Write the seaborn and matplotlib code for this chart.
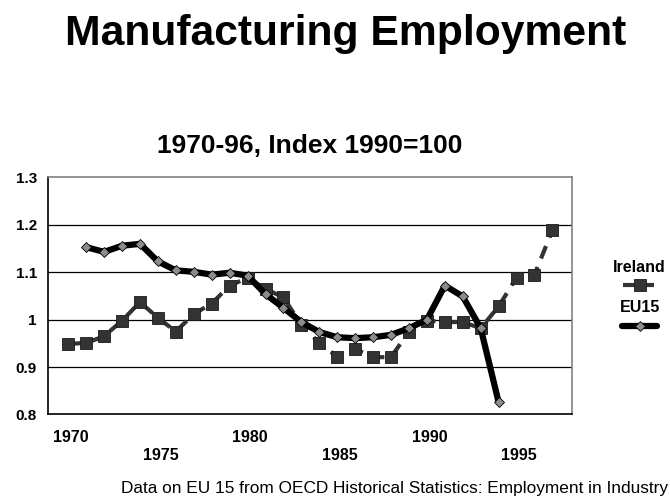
"""
Manufacturing Employment, Ireland vs EU15
Index 1990 = 1.0
"""

import numpy as np
import pandas as pd
import matplotlib
matplotlib.use("Agg")
import matplotlib.pyplot as plt
import matplotlib.transforms as mtransforms
from matplotlib.lines import Line2D
import seaborn as sns

# ============================================================
# DATA
# ============================================================
ireland_years = list(range(1970, 1998))
ireland_index = [0.949, 0.951, 0.965, 0.998, 1.037, 1.004, 0.975, 1.012,
                 1.034, 1.072, 1.088, 1.065, 1.047, 0.989, 0.951, 0.922,
                 0.938, 0.921, 0.921, 0.975, 0.998, 0.995, 0.995, 0.982,
                 1.028, 1.089, 1.095, 1.189]

eu15_years = list(range(1971, 1995))
eu15_index = [1.153, 1.143, 1.156, 1.160, 1.123, 1.104, 1.101, 1.095,
              1.099, 1.093, 1.054, 1.025, 0.995, 0.974, 0.963, 0.961,
              0.963, 0.968, 0.982, 1.000, 1.072, 1.049, 0.982, 0.826]

x_tick_years = [1970, 1975, 1980, 1985, 1990, 1995]
y_ticks = [0.8, 0.9, 1.0, 1.1, 1.2, 1.3]
y_tick_labels = ["0.8", "0.9", "1", "1.1", "1.2", "1.3"]

ireland_df = pd.DataFrame({"year": ireland_years, "index": ireland_index})
eu15_df = pd.DataFrame({"year": eu15_years, "index": eu15_index})

# ============================================================
# STYLE
# ============================================================
sns.set_style("white")
plt.rcParams["font.family"] = ["Liberation Sans", "DejaVu Sans"]
plt.rcParams["text.color"] = "black"
plt.rcParams["xtick.color"] = "black"
plt.rcParams["ytick.color"] = "black"

IRL_COLOR = "#333333"
EU_COLOR = "#000000"
EU_MARKER = "#8c8c8c"

fig = plt.figure(figsize=(6.7, 4.97), dpi=100)
ax = fig.add_axes([0.0716, 0.166, 0.7821, 0.4769])

# Ireland: dark squares, broken line
sns.lineplot(data=ireland_df, x="year", y="index", ax=ax, color=IRL_COLOR,
             lw=3, marker="s", markersize=9, markerfacecolor=IRL_COLOR,
             markeredgecolor="#1a1a1a", markeredgewidth=0.6)
ax.lines[-1].set_dashes((3.2, 2.2))
ax.lines[-1].set_dash_capstyle("butt")

# EU15: thick black line, grey diamonds (drawn on top)
sns.lineplot(data=eu15_df, x="year", y="index", ax=ax, color=EU_COLOR,
             lw=4.5, marker="D", markersize=5.5, markerfacecolor=EU_MARKER,
             markeredgecolor="#000000", markeredgewidth=0.6)
ax.lines[-1].set_solid_joinstyle("round")

# ============================================================
# AXES
# ============================================================
ax.set_xlim(1968.87, 1998.09)
ax.set_ylim(0.8, 1.3)
ax.set_yticks(y_ticks)
ax.set_yticklabels(y_tick_labels, fontsize=11, fontweight="bold")
ax.set_xticks(x_tick_years)
ax.set_xticklabels([str(y) if i % 2 == 0 else "\n" + str(y)
                    for i, y in enumerate(x_tick_years)],
                   fontsize=11.5, fontweight="bold", linespacing=1.25)
ax.tick_params(axis="both", length=0, labelcolor="black")
ax.tick_params(axis="y", pad=8)
ax.tick_params(axis="x", pad=11)
# labels sit a touch right of the category centres
shift = mtransforms.ScaledTranslation(2.5 / 100, 0, fig.dpi_scale_trans)
for lbl in ax.get_xticklabels():
    lbl.set_transform(lbl.get_transform() + shift)
ax.set_xlabel("")
ax.set_ylabel("")

for yv in [0.9, 1.0, 1.1, 1.2]:
    ax.axhline(yv, color="black", lw=0.9, zorder=0)

for side in ["left", "bottom"]:
    ax.spines[side].set_color("black")
    ax.spines[side].set_linewidth(1.2)
for side in ["top", "right"]:
    ax.spines[side].set_color("#808080")
    ax.spines[side].set_linewidth(1.2)

if ax.get_legend() is not None:
    ax.get_legend().remove()

# ============================================================
# LEGEND (label above sample, Excel style)
# ============================================================
W, H = 670.0, 497.0
fig.text(639 / W, 1 - 267 / H, "Ireland", ha="center", va="center",
         fontsize=11.5, fontweight="bold")
fig.add_artist(Line2D([623 / W, 654 / W], [1 - 285 / H, 1 - 285 / H],
                      transform=fig.transFigure, color=IRL_COLOR, lw=3,
                      dashes=(3.2, 2.2)))
fig.add_artist(Line2D([640 / W], [1 - 285 / H], transform=fig.transFigure,
                      ls="none", marker="s", markersize=9,
                      markerfacecolor=IRL_COLOR, markeredgecolor="#1a1a1a",
                      markeredgewidth=0.6))
fig.text(640 / W, 1 - 307 / H, "EU15", ha="center", va="center",
         fontsize=11.5, fontweight="bold")
fig.add_artist(Line2D([622 / W, 657 / W], [1 - 326 / H, 1 - 326 / H],
                      transform=fig.transFigure, color=EU_COLOR, lw=4.5,
                      solid_capstyle="round"))
fig.add_artist(Line2D([640 / W], [1 - 326 / H], transform=fig.transFigure,
                      ls="none", marker="D", markersize=5.5,
                      markerfacecolor=EU_MARKER, markeredgecolor="#000000",
                      markeredgewidth=0.6))

# ============================================================
# TITLES / NOTE
# ============================================================
fig.text(345.5 / W, 1 - 45.5 / H, "Manufacturing Employment", ha="center",
         va="baseline", fontsize=30.7, fontweight="bold")
fig.text(310 / W, 1 - 153 / H, "1970-96, Index 1990=100", ha="center",
         va="baseline", fontsize=19, fontweight="bold")
fig.text(668 / W, 1 - 493 / H,
         "Data on EU 15 from OECD Historical Statistics: Employment in Industry",
         ha="right", va="baseline", fontsize=12.4)

plt.savefig("out.png", dpi=100)
